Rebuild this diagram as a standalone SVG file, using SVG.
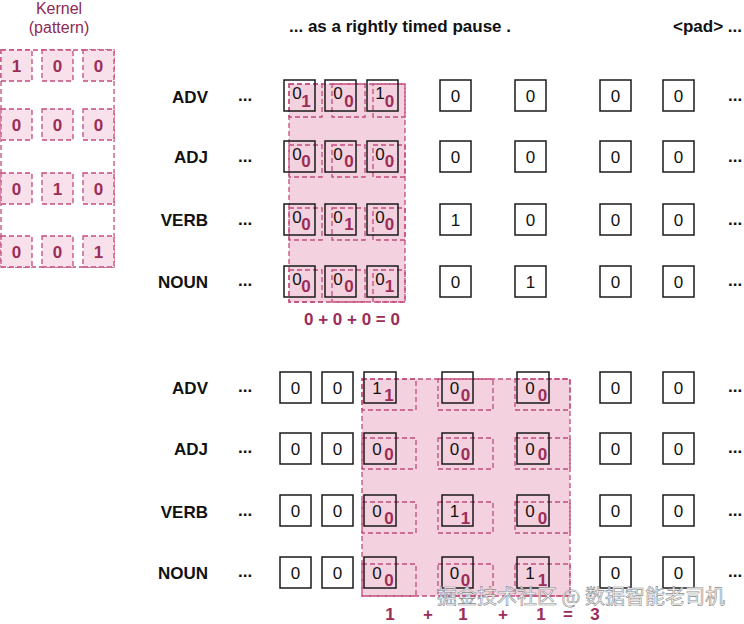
<svg xmlns="http://www.w3.org/2000/svg" width="744" height="624" viewBox="0 0 744 624">
<style>
.lbl{font-family:"Liberation Sans",Arial,sans-serif;font-weight:bold;font-size:17px;fill:#111}
.end{text-anchor:end}
.box{fill:none;stroke:#1a1a1a;stroke-width:1.5}
.num{font-family:"Liberation Sans",Arial,sans-serif;font-size:17px;fill:#111;text-anchor:middle}
.k{font-family:"Liberation Sans",Arial,sans-serif;font-weight:bold;font-size:17px;fill:#9c2c58;text-anchor:middle}
.dash{fill:none;stroke:#c24d7c;stroke-width:1.3;stroke-dasharray:5 3}
.ov{fill:#f3d1de;stroke:#c24d7c;stroke-width:1.3;stroke-dasharray:5 3}
.kc{fill:#f8e1ea;stroke:#c24d7c;stroke-width:1.3;stroke-dasharray:5 3}
.ttl{font-family:"Liberation Sans",Arial,sans-serif;font-size:16px;fill:#8e2a55;text-anchor:middle}
.wm{font-family:"Noto Sans CJK SC","Liberation Sans",sans-serif;font-size:20px;fill:#ffffff;stroke:#8a8a8a;stroke-width:0.6}
</style>
<rect width="744" height="624" fill="#ffffff"/>

<g id="kernel">
<text class="ttl" x="59" y="14">Kernel</text>
<text class="ttl" x="59" y="33">(pattern)</text>
<rect class="dash" x="1" y="50" width="113" height="217"/>
<rect class="kc" x="1" y="50" width="31" height="31"/><rect class="kc" x="42" y="50" width="31" height="31"/><rect class="kc" x="83" y="50" width="31" height="31"/>
<rect class="kc" x="1" y="109" width="31" height="31"/><rect class="kc" x="42" y="109" width="31" height="31"/><rect class="kc" x="83" y="109" width="31" height="31"/>
<rect class="kc" x="1" y="173" width="31" height="31"/><rect class="kc" x="42" y="173" width="31" height="31"/><rect class="kc" x="83" y="173" width="31" height="31"/>
<rect class="kc" x="1" y="236" width="31" height="31"/><rect class="kc" x="42" y="236" width="31" height="31"/><rect class="kc" x="83" y="236" width="31" height="31"/>
<text class="k" x="16.5" y="71.5">1</text><text class="k" x="57.5" y="71.5">0</text><text class="k" x="98.5" y="71.5">0</text>
<text class="k" x="16.5" y="130.5">0</text><text class="k" x="57.5" y="130.5">0</text><text class="k" x="98.5" y="130.5">0</text>
<text class="k" x="16.5" y="194.5">0</text><text class="k" x="57.5" y="194.5">1</text><text class="k" x="98.5" y="194.5">0</text>
<text class="k" x="16.5" y="257.5">0</text><text class="k" x="57.5" y="257.5">0</text><text class="k" x="98.5" y="257.5">1</text>
</g>

<g id="header">
<text class="lbl" x="289" y="32">... as a rightly timed pause .</text>
<text class="lbl" x="673" y="32">&lt;pad&gt; ...</text>
</g>

<g id="top-grid">
<text class="lbl end" x="208" y="103">ADV</text>
<text class="lbl end" x="208" y="163">ADJ</text>
<text class="lbl end" x="208" y="226">VERB</text>
<text class="lbl end" x="208" y="288">NOUN</text>
<text class="lbl" x="238" y="101">...</text><text class="lbl" x="238" y="162">...</text><text class="lbl" x="238" y="225">...</text><text class="lbl" x="238" y="286">...</text>
<text class="lbl" x="728" y="101">...</text><text class="lbl" x="728" y="162">...</text><text class="lbl" x="728" y="225">...</text><text class="lbl" x="728" y="286">...</text>

<g id="top-kernel">
<rect class="ov" x="289" y="84" width="116" height="218"/>
<rect class="dash" x="289" y="84" width="33" height="33"/><rect class="dash" x="332" y="84" width="33" height="33"/><rect class="dash" x="373" y="84" width="32" height="33"/>
<rect class="dash" x="289" y="145" width="33" height="32"/><rect class="dash" x="332" y="145" width="33" height="32"/><rect class="dash" x="373" y="145" width="32" height="32"/>
<rect class="dash" x="289" y="208" width="33" height="32"/><rect class="dash" x="332" y="208" width="33" height="32"/><rect class="dash" x="373" y="208" width="32" height="32"/>
<rect class="dash" x="289" y="270" width="33" height="32"/><rect class="dash" x="332" y="270" width="33" height="32"/><rect class="dash" x="373" y="270" width="32" height="32"/>
</g>

<g id="top-boxes">
<rect class="box" x="284" y="80" width="31" height="31"/><rect class="box" x="325" y="80" width="31" height="31"/><rect class="box" x="367" y="80" width="31" height="31"/><rect class="box" x="440" y="80" width="31" height="31"/><rect class="box" x="515" y="80" width="31" height="31"/><rect class="box" x="600" y="80" width="31" height="31"/><rect class="box" x="663" y="80" width="31" height="31"/>
<rect class="box" x="284" y="141" width="31" height="31"/><rect class="box" x="325" y="141" width="31" height="31"/><rect class="box" x="367" y="141" width="31" height="31"/><rect class="box" x="440" y="141" width="31" height="31"/><rect class="box" x="515" y="141" width="31" height="31"/><rect class="box" x="600" y="141" width="31" height="31"/><rect class="box" x="663" y="141" width="31" height="31"/>
<rect class="box" x="284" y="204" width="31" height="31"/><rect class="box" x="325" y="204" width="31" height="31"/><rect class="box" x="367" y="204" width="31" height="31"/><rect class="box" x="440" y="204" width="31" height="31"/><rect class="box" x="515" y="204" width="31" height="31"/><rect class="box" x="600" y="204" width="31" height="31"/><rect class="box" x="663" y="204" width="31" height="31"/>
<rect class="box" x="284" y="266" width="31" height="31"/><rect class="box" x="325" y="266" width="31" height="31"/><rect class="box" x="367" y="266" width="31" height="31"/><rect class="box" x="440" y="266" width="31" height="31"/><rect class="box" x="515" y="266" width="31" height="31"/><rect class="box" x="600" y="266" width="31" height="31"/><rect class="box" x="663" y="266" width="31" height="31"/>
</g>

<g id="top-values">
<text class="num" x="297" y="99">0</text><text class="num" x="338" y="99">0</text><text class="num" x="380" y="99">1</text>
<text class="num" x="455.5" y="101.5">0</text><text class="num" x="530.5" y="101.5">0</text><text class="num" x="615.5" y="101.5">0</text><text class="num" x="678.5" y="101.5">0</text>
<text class="num" x="297" y="160">0</text><text class="num" x="338" y="160">0</text><text class="num" x="380" y="160">0</text>
<text class="num" x="455.5" y="162.5">0</text><text class="num" x="530.5" y="162.5">0</text><text class="num" x="615.5" y="162.5">0</text><text class="num" x="678.5" y="162.5">0</text>
<text class="num" x="297" y="223">0</text><text class="num" x="338" y="223">0</text><text class="num" x="380" y="223">0</text>
<text class="num" x="455.5" y="225.5">1</text><text class="num" x="530.5" y="225.5">0</text><text class="num" x="615.5" y="225.5">0</text><text class="num" x="678.5" y="225.5">0</text>
<text class="num" x="297" y="285">0</text><text class="num" x="338" y="285">0</text><text class="num" x="380" y="285">0</text>
<text class="num" x="455.5" y="287.5">0</text><text class="num" x="530.5" y="287.5">1</text><text class="num" x="615.5" y="287.5">0</text><text class="num" x="678.5" y="287.5">0</text>
<text class="k" x="306" y="106.5">1</text><text class="k" x="349" y="106.5">0</text><text class="k" x="389.5" y="106.5">0</text>
<text class="k" x="306" y="167">0</text><text class="k" x="349" y="167">0</text><text class="k" x="389.5" y="167">0</text>
<text class="k" x="306" y="230">0</text><text class="k" x="349" y="230">1</text><text class="k" x="389.5" y="230">0</text>
<text class="k" x="306" y="292">0</text><text class="k" x="349" y="292">0</text><text class="k" x="389.5" y="292">1</text>
<text class="k" x="352" y="325">0 + 0 + 0 = 0</text>
</g>
</g>

<g id="bottom-grid">
<text class="lbl end" x="208" y="394">ADV</text>
<text class="lbl end" x="208" y="455">ADJ</text>
<text class="lbl end" x="208" y="518">VERB</text>
<text class="lbl end" x="208" y="579">NOUN</text>
<text class="lbl" x="238" y="392">...</text><text class="lbl" x="238" y="453">...</text><text class="lbl" x="238" y="516">...</text><text class="lbl" x="238" y="577">...</text>
<text class="lbl" x="728" y="392">...</text><text class="lbl" x="728" y="453">...</text><text class="lbl" x="728" y="516">...</text><text class="lbl" x="728" y="577">...</text>

<g id="bottom-kernel">
<rect class="ov" x="362" y="379" width="208" height="217"/>
<rect class="dash" x="362" y="379" width="54" height="31"/><rect class="dash" x="438" y="379" width="55" height="31"/><rect class="dash" x="515" y="379" width="55" height="31"/>
<rect class="dash" x="362" y="438" width="54" height="31"/><rect class="dash" x="438" y="438" width="55" height="31"/><rect class="dash" x="515" y="438" width="55" height="31"/>
<rect class="dash" x="362" y="502" width="54" height="31"/><rect class="dash" x="438" y="502" width="55" height="31"/><rect class="dash" x="515" y="502" width="55" height="31"/>
<rect class="dash" x="362" y="564" width="54" height="32"/><rect class="dash" x="438" y="564" width="55" height="32"/><rect class="dash" x="515" y="564" width="55" height="32"/>
</g>

<g id="bottom-boxes">
<rect class="box" x="280" y="372" width="31" height="31"/><rect class="box" x="322" y="372" width="31" height="31"/><rect class="box" x="364" y="372" width="32" height="31"/><rect class="box" x="442" y="372" width="31" height="31"/><rect class="box" x="517" y="372" width="32" height="31"/><rect class="box" x="600" y="372" width="31" height="31"/><rect class="box" x="663" y="372" width="31" height="31"/>
<rect class="box" x="280" y="433" width="31" height="31"/><rect class="box" x="322" y="433" width="31" height="31"/><rect class="box" x="364" y="433" width="32" height="31"/><rect class="box" x="442" y="433" width="31" height="31"/><rect class="box" x="517" y="433" width="32" height="31"/><rect class="box" x="600" y="433" width="31" height="31"/><rect class="box" x="663" y="433" width="31" height="31"/>
<rect class="box" x="280" y="495" width="31" height="31"/><rect class="box" x="322" y="495" width="31" height="31"/><rect class="box" x="364" y="495" width="32" height="31"/><rect class="box" x="442" y="495" width="31" height="31"/><rect class="box" x="517" y="495" width="32" height="31"/><rect class="box" x="600" y="495" width="31" height="31"/><rect class="box" x="663" y="495" width="31" height="31"/>
<rect class="box" x="280" y="557" width="31" height="31"/><rect class="box" x="322" y="557" width="31" height="31"/><rect class="box" x="364" y="557" width="32" height="31"/><rect class="box" x="442" y="557" width="31" height="31"/><rect class="box" x="517" y="557" width="32" height="31"/><rect class="box" x="600" y="557" width="31" height="31"/><rect class="box" x="663" y="557" width="31" height="31"/>
</g>

<g id="bottom-values">
<text class="num" x="295.5" y="393.5">0</text><text class="num" x="337.5" y="393.5">0</text><text class="num" x="377" y="394">1</text><text class="num" x="454.5" y="394">0</text><text class="num" x="530" y="394">0</text><text class="num" x="615.5" y="393.5">0</text><text class="num" x="678.5" y="393.5">0</text>
<text class="num" x="295.5" y="454.5">0</text><text class="num" x="337.5" y="454.5">0</text><text class="num" x="377" y="455">0</text><text class="num" x="454.5" y="455">0</text><text class="num" x="530" y="455">0</text><text class="num" x="615.5" y="454.5">0</text><text class="num" x="678.5" y="454.5">0</text>
<text class="num" x="295.5" y="516.5">0</text><text class="num" x="337.5" y="516.5">0</text><text class="num" x="377" y="517">0</text><text class="num" x="454.5" y="517">1</text><text class="num" x="530" y="517">0</text><text class="num" x="615.5" y="516.5">0</text><text class="num" x="678.5" y="516.5">0</text>
<text class="num" x="295.5" y="578.5">0</text><text class="num" x="337.5" y="578.5">0</text><text class="num" x="377" y="579">0</text><text class="num" x="454.5" y="579">0</text><text class="num" x="530" y="579">1</text><text class="num" x="615.5" y="578.5">0</text><text class="num" x="678.5" y="578.5">0</text>
<text class="k" x="389" y="400.5">1</text><text class="k" x="465.5" y="400.5">0</text><text class="k" x="542.5" y="400.5">0</text>
<text class="k" x="389" y="459.5">0</text><text class="k" x="465.5" y="459.5">0</text><text class="k" x="542.5" y="459.5">0</text>
<text class="k" x="389" y="523.5">0</text><text class="k" x="465.5" y="523.5">1</text><text class="k" x="542.5" y="523.5">0</text>
<text class="k" x="389" y="586">0</text><text class="k" x="465.5" y="586">0</text><text class="k" x="542.5" y="586">1</text>
<text class="k" x="390" y="620">1</text><text class="k" x="428" y="620">+</text><text class="k" x="463" y="620">1</text><text class="k" x="503" y="620">+</text><text class="k" x="541" y="620">1</text><text class="k" x="568" y="620">=</text><text class="k" x="595" y="620">3</text>
</g>
</g>

<text class="wm" x="437" y="604">掘金技术社区 @ 数据智能老司机</text>
</svg>
